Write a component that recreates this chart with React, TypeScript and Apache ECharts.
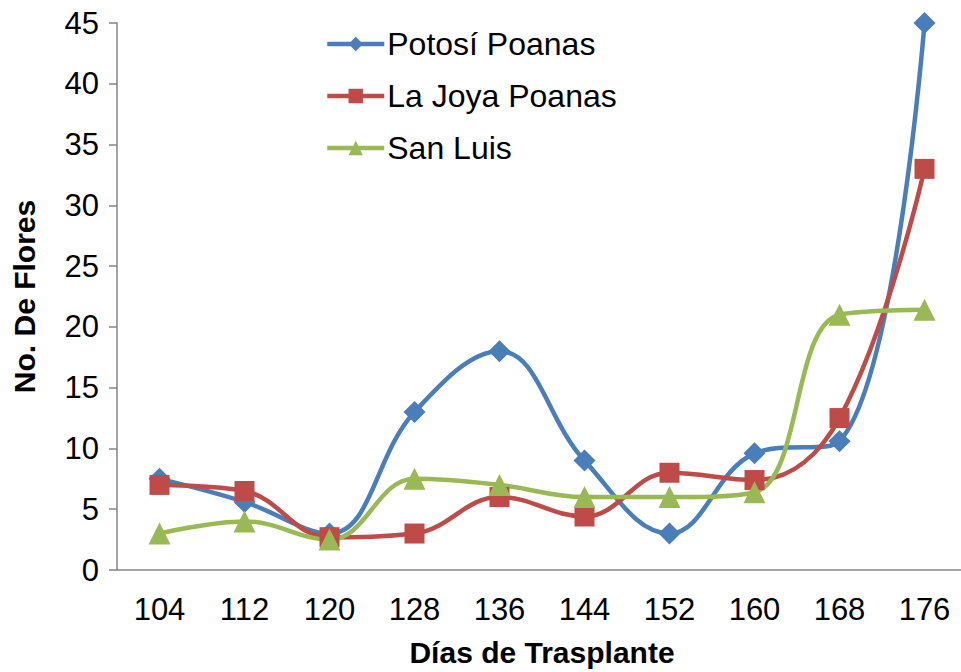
import React, { useEffect, useRef } from "react";
import * as echarts from "echarts";

const dias = ["104", "112", "120", "128", "136", "144", "152", "160", "168", "176"];
const potosiPoanas = [7.5, 5.6, 3, 13, 18, 9, 3, 9.6, 10.6, 45];
const laJoyaPoanas = [7, 6.5, 2.7, 3, 6, 4.4, 8, 7.4, 12.5, 33];
const sanLuis = [3, 4, 2.5, 7.5, 7, 6, 6, 6.4, 21, 21.4];

const FONT = "'Liberation Sans', Arial, sans-serif";

export default function App() {
  const ref = useRef<HTMLDivElement>(null);

  useEffect(() => {
    if (!ref.current) return;
    const chart = echarts.init(ref.current, undefined, { renderer: "svg" });
    const line = (name: string, data: number[], color: string, symbol: string, size: number) => ({
      name,
      type: "line",
      data,
      smooth: 0.4,
      symbol,
      symbolSize: size,
      lineStyle: { color, width: 4.5 },
      itemStyle: { color, borderWidth: 0 },
    });
    chart.setOption({
      animation: false,
      backgroundColor: "#ffffff",
      textStyle: { fontFamily: FONT },
      grid: { left: 117, top: 23, width: 850, height: 547, outerBoundsMode: "none" },
      legend: {
        orient: "vertical",
        left: 325,
        top: 28,
        padding: 0,
        itemWidth: 57,
        itemHeight: 18,
        itemGap: 20,
        lineStyle: { width: 4.5 },
        textStyle: { fontSize: 32, color: "#000", fontFamily: FONT, padding: [0, 0, 0, -2] },
        data: ["Potosí Poanas", "La Joya Poanas", "San Luis"],
      },
      xAxis: {
        type: "category",
        data: dias,
        boundaryGap: true,
        name: "Días de Trasplante",
        nameLocation: "middle",
        nameGap: 67,
        nameTextStyle: { fontSize: 30, fontWeight: "bold", color: "#000", fontFamily: FONT },
        axisLine: { lineStyle: { color: "#868686", width: 1.5 } },
        axisTick: { length: 8, lineStyle: { color: "#868686", width: 1.5 } },
        axisLabel: { fontSize: 31, color: "#000", margin: 24, fontFamily: FONT },
      },
      yAxis: {
        type: "value",
        min: 0,
        max: 45,
        interval: 5,
        name: "No. De Flores",
        nameLocation: "middle",
        nameGap: 78,
        nameTextStyle: { fontSize: 30, fontWeight: "bold", color: "#000", fontFamily: FONT },
        splitLine: { show: false },
        axisLine: { show: true, lineStyle: { color: "#868686", width: 1.5 } },
        axisTick: { show: true, length: 8, lineStyle: { color: "#868686", width: 1.5 } },
        axisLabel: { fontSize: 31, color: "#000", margin: 18, fontFamily: FONT },
      },
      series: [
        line("Potosí Poanas", potosiPoanas, "#4A7EBB", "diamond", 22),
        line("La Joya Poanas", laJoyaPoanas, "#BE4B48", "rect", 20),
        line("San Luis", sanLuis, "#98B954", "triangle", 22),
      ],
    });
    return () => chart.dispose();
  }, []);

  return (
    <div
      ref={ref}
      style={{ position: "absolute", left: 0, top: 0, width: 961, height: 672 }}
    />
  );
}
